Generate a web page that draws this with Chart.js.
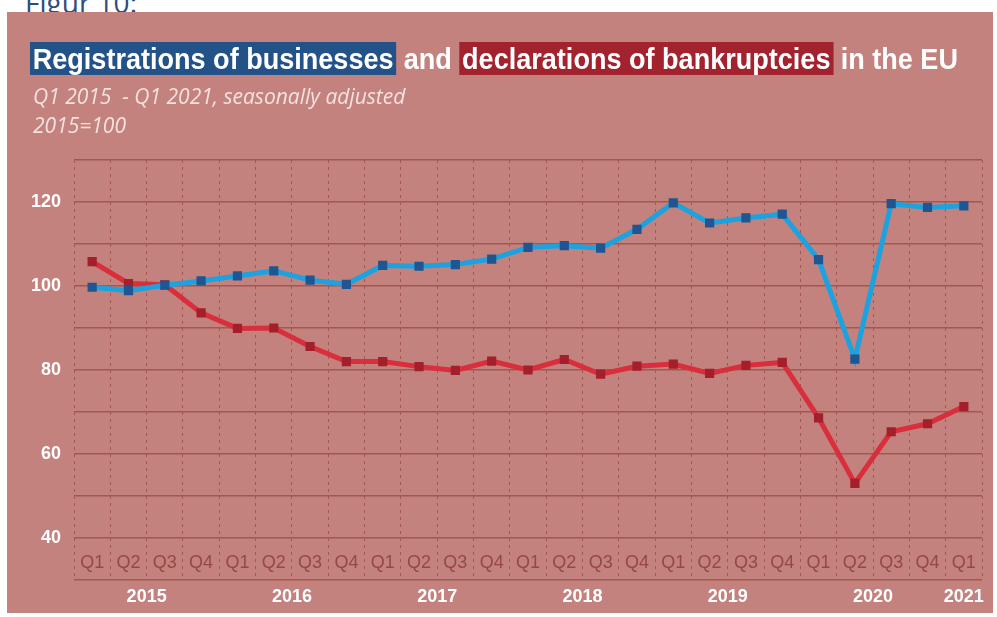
<!DOCTYPE html>
<html>
<head>
<meta charset="utf-8">
<script src="https://cdn.jsdelivr.net/npm/chart.js@4"></script>
<style>
    body { margin: 0; background: #fff; width: 997px; height: 617px; overflow: hidden; position: relative; }
    #figur { position: absolute; left: 25px; top: -17px; font: 28px "Open Sans", sans-serif; color: #2d4d7c; }
    #panel { position: absolute; left: 7px; top: 12px; width: 986px; height: 601px; background: #c3827e; }
    #panel canvas { position: absolute; left: 0; top: 0; }
    .title { position: absolute; left: 23px; top: 28px; font: bold 30px "Liberation Sans", sans-serif; color: #fff; white-space: nowrap; line-height: 38px; transform-origin: 0 0; }
    .title .blue { background: #235289; padding: 0 3px; }
    .title .red { background: #a2222d; padding: 0 3px; }
    .sub { position: absolute; left: 26px; font: italic 21px "Open Sans", sans-serif; color: #f4e2df; white-space: nowrap; }
</style>
</head>
<body>
<div id="figur">Figur 10:</div>
<div id="panel">
    <canvas id="chart" width="986" height="601"></canvas>
    <div class="title" id="title"><span class="blue">Registrations of businesses</span> and <span class="red">declarations of bankruptcies</span> in the EU</div>
    <div class="sub" style="top:70px">Q1 2015&nbsp; - Q1 2021, seasonally adjusted</div>
    <div class="sub" style="top:99px">2015=100</div>
</div>

<script>
/* ==========================
   DATA
========================== */
const periods = [
    "2015 Q1", "2015 Q2", "2015 Q3", "2015 Q4",
    "2016 Q1", "2016 Q2", "2016 Q3", "2016 Q4",
    "2017 Q1", "2017 Q2", "2017 Q3", "2017 Q4",
    "2018 Q1", "2018 Q2", "2018 Q3", "2018 Q4",
    "2019 Q1", "2019 Q2", "2019 Q3", "2019 Q4",
    "2020 Q1", "2020 Q2", "2020 Q3", "2020 Q4",
    "2021 Q1"
];

const registrations = [
    99.7, 98.9, 100.2, 101.2,
    102.4, 103.6, 101.4, 100.4,
    104.9, 104.7, 105.1, 106.4,
    109.2, 109.6, 109.0, 113.5,
    119.8, 115.0, 116.2, 117.1,
    106.3, 82.6, 119.6, 118.7,
    119.1
];

const bankruptcies = [
    105.8, 100.6, 100.3, 93.6,
    89.9, 90.0, 85.6, 82.0,
    82.0, 80.8, 79.9, 82.1,
    80.0, 82.5, 79.0, 80.9,
    81.4, 79.2, 81.1, 81.8,
    68.6, 53.0, 65.3, 67.2,
    71.3
];

const yTickLabels = [40, 60, 80, 100, 120];

/* ==========================
   TITLE WIDTH (condensed look)
========================== */
const title = document.getElementById("title");
title.style.transform = `scaleX(${928 / title.scrollWidth})`;

/* ==========================
   YEAR AXIS (centre of each year's quarters)
========================== */
const yearTicks = [];
periods.forEach((p, i) => {
    const year = p.split(" ")[0];
    let t = yearTicks.find(y => y.label === year);
    if (!t) {
        t = { label: year, first: i, last: i };
        yearTicks.push(t);
    }
    t.last = i;
});
yearTicks.forEach(t => t.value = (t.first + t.last) / 2);

const gridColor = "#a65650";
const labelFont = "'Liberation Sans', sans-serif";

/* ==========================
   CHART
========================== */
new Chart(document.getElementById("chart"), {
    type: "line",
    data: {
        labels: periods,
        datasets: [
            {
                label: "Registrations of businesses",
                data: registrations,
                borderColor: "#1ba2df",
                borderWidth: 5,
                pointStyle: "rect",
                pointRadius: 6.5,
                pointBorderWidth: 0,
                pointBackgroundColor: "#1f5591",
                tension: 0
            },
            {
                label: "Declarations of bankruptcies",
                data: bankruptcies,
                borderColor: "#d92e3b",
                borderWidth: 5,
                pointStyle: "rect",
                pointRadius: 6.5,
                pointBorderWidth: 0,
                pointBackgroundColor: "#a31f2c",
                tension: 0
            }
        ]
    },
    options: {
        responsive: false,
        animation: false,
        layout: { padding: { top: 148, right: 11, bottom: 0, left: 0 } },
        plugins: {
            legend: { display: false },
            tooltip: { enabled: false }
        },
        scales: {
            x: {
                type: "category",
                position: "bottom",
                weight: 0,
                offset: true,
                grid: {
                    offset: true,
                    color: gridColor,
                    lineWidth: 1,
                    drawTicks: false
                },
                border: { display: false, dash: [3, 4] },
                ticks: {
                    autoSkip: false,
                    maxRotation: 0,
                    mirror: true,
                    padding: 6,
                    color: "#984844",
                    font: { family: labelFont, size: 18 },
                    callback: function (value, index) {
                        return periods[index].split(" ")[1];
                    }
                },
                afterFit: function (scale) { scale.height = 0; }
            },
            years: {
                type: "linear",
                position: "bottom",
                weight: 1,
                min: -0.5,
                max: periods.length - 0.5,
                grid: { display: false },
                border: { display: false },
                afterBuildTicks: function (scale) {
                    scale.ticks = yearTicks.map(t => ({ value: t.value }));
                },
                ticks: {
                    autoSkip: false,
                    maxRotation: 0,
                    padding: -2,
                    color: "#ffffff",
                    font: { family: labelFont, size: 18, weight: "bold" },
                    callback: function (value) {
                        const t = yearTicks.find(y => y.value === value);
                        return t ? t.label : "";
                    }
                },
                afterFit: function (scale) { scale.height = 33; }
            },
            y: {
                min: 30,
                max: 130,
                grid: {
                    color: gridColor,
                    lineWidth: 1.5,
                    drawTicks: false
                },
                border: { display: false },
                ticks: {
                    stepSize: 10,
                    padding: 13,
                    color: "#ffffff",
                    font: { family: labelFont, size: 18, weight: "bold" },
                    callback: function (value) {
                        return yTickLabels.includes(value) ? value : "";
                    }
                },
                afterFit: function (scale) { scale.width = 67; }
            }
        }
    }
});
</script>
</body>
</html>
